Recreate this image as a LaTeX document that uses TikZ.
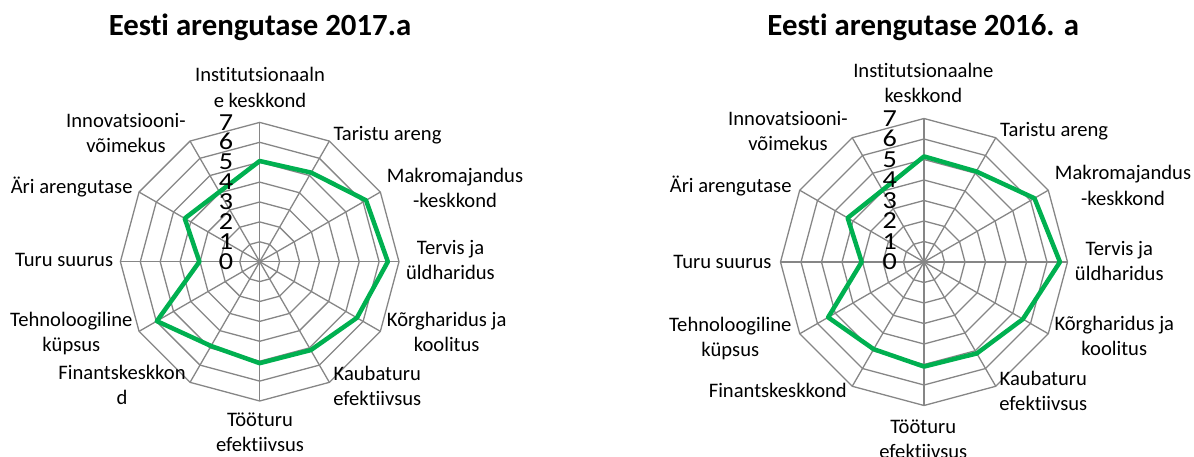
\documentclass[tikz,border=0pt]{standalone}
\usepackage{fontspec}
\setmainfont[Ligatures={NoCommon}]{Carlito}
\definecolor{gridgray}{HTML}{868686}
\definecolor{sergreen}{HTML}{00B050}
\begin{document}
\begin{tikzpicture}[x=1pt,y=-1pt,
  gridline/.style={draw=gridgray,line width=1.3pt},
  series/.style={draw=sergreen,line width=4.5pt,line join=round},
  lbl/.style={font=\fontsize{20.6}{25.2}\selectfont,inner sep=0pt,align=center,anchor=base},
  lblw/.style={lbl,anchor=base west},
  lble/.style={lbl,anchor=base east},
  digit/.style={font=\fontsize{24.5}{29}\selectfont,inner sep=0pt,anchor=base east},
  charttitle/.style={font=\bfseries\fontsize{30.8}{37}\selectfont,inner sep=0pt,anchor=base}]
\useasboundingbox (0,0) rectangle (1194,457);

% ---------------- Chart 1 (2017) ----------------
\node[charttitle] (t1) at (260,36) {Eesti arengutase 2017.a};
\begin{scope}[shift={(259.7,261.7)}]
  \def\u{19.9}
  \foreach \k in {1,...,7}
    \draw[gridline] (-90:\k*\u) \foreach \a in {1,...,11}{ -- (-90+30*\a:\k*\u)} -- cycle;
  \foreach \a in {0,...,11}
    \draw[gridline] (0,0) -- (-90+30*\a:7*\u);
  \draw[series] (-90:5.06*\u) -- (-60:5.17*\u) -- (-30:6.17*\u) -- (0:6.44*\u)
    -- (30:5.64*\u) -- (60:5.13*\u) -- (90:5.10*\u) -- (120:4.89*\u)
    -- (150:5.97*\u) -- (180:3.03*\u) -- (210:4.35*\u) -- (240:4.05*\u) -- cycle;
  \foreach \k in {0,...,7}
    \node[digit] (a\k) at (-26.4,{-\k*\u+7.7}) {\scalebox{1.15}[1]{\k}};
\end{scope}
\node[lbl]  (l1a) at (260,107.2)   {Institutsionaaln\\e keskkond};
\node[lblw] (l1b) at (333.3,141)   {Taristu areng};
\node[lbl]  (l1c) at (455,207.5)   {Makromajandus\\-keskkond};
\node[lbl]  (l1d) at (450.5,279.5) {Tervis ja\\üldharidus};
\node[lbl]  (l1e) at (446.7,351.9) {Kõrgharidus ja\\koolitus};
\node[lbl]  (l1f) at (377.3,405.2) {Kaubaturu\\efektiivsus};
\node[lbl]  (l1g) at (260,451.2)   {Tööturu\\efektiivsus};
\node[lbl]  (l1h) at (122,404.5)   {Finantskeskkon\\d};
\node[lbl]  (l1i) at (71.3,351.9)  {Tehnoloogiline\\küpsus};
\node[lble] (l1j) at (113.3,266.7) {Turu suurus};
\node[lble] (l1k) at (132.7,193.3) {Äri arengutase};
\node[lbl]  (l1l) at (126,152.9)   {Innovatsiooni-\\võimekus};

% ---------------- Chart 2 (2016) ----------------
\node[charttitle] (t2) at (923.3,36) {Eesti arengutase 2016. a};
\begin{scope}[shift={(924,262)}]
  \def\u{20.5}
  \foreach \k in {1,...,7}
    \draw[gridline] (-90:\k*\u) \foreach \a in {1,...,11}{ -- (-90+30*\a:\k*\u)} -- cycle;
  \foreach \a in {0,...,11}
    \draw[gridline] (0,0) -- (-90+30*\a:7*\u);
  \draw[series] (-90:5.15*\u) -- (-60:5.1*\u) -- (-30:6.22*\u) -- (0:6.63*\u)
    -- (30:5.57*\u) -- (60:5.15*\u) -- (90:5.10*\u) -- (120:4.91*\u)
    -- (150:5.40*\u) -- (180:3.04*\u) -- (210:4.30*\u) -- (240:4.05*\u) -- cycle;
  \foreach \k in {0,...,7}
    \node[digit] (b\k) at (-27,{-\k*\u+7.7}) {\scalebox{1.15}[1]{\k}};
\end{scope}
\node[lbl]  (l2a) at (923.3,102.5) {Institutsionaalne\\keskkond};
\node[lblw] (l2b) at (1000,136.7)  {Taristu areng};
\node[lbl]  (l2c) at (1123,205.2)  {Makromajandus\\-keskkond};
\node[lbl]  (l2d) at (1119.3,280.2) {Tervis ja\\üldharidus};
\node[lbl]  (l2e) at (1114.3,355.2) {Kõrgharidus ja\\koolitus};
\node[lbl]  (l2f) at (1043.3,410.2) {Kaubaturu\\efektiivsus};
\node[lbl]  (l2g) at (923.3,458.5) {Tööturu\\efektiivsus};
\node[lbl]  (l2h) at (777.8,397.3) {Finantskeskkond};
\node[lbl]  (l2i) at (730.2,356.9) {Tehnoloogiline\\küpsus};
\node[lble] (l2j) at (771.7,268.3) {Turu suurus};
\node[lble] (l2k) at (791.7,192.7) {Äri arengutase};
\node[lbl]  (l2l) at (788,150.9)   {Innovatsiooni-\\võimekus};
\end{tikzpicture}
\end{document}
